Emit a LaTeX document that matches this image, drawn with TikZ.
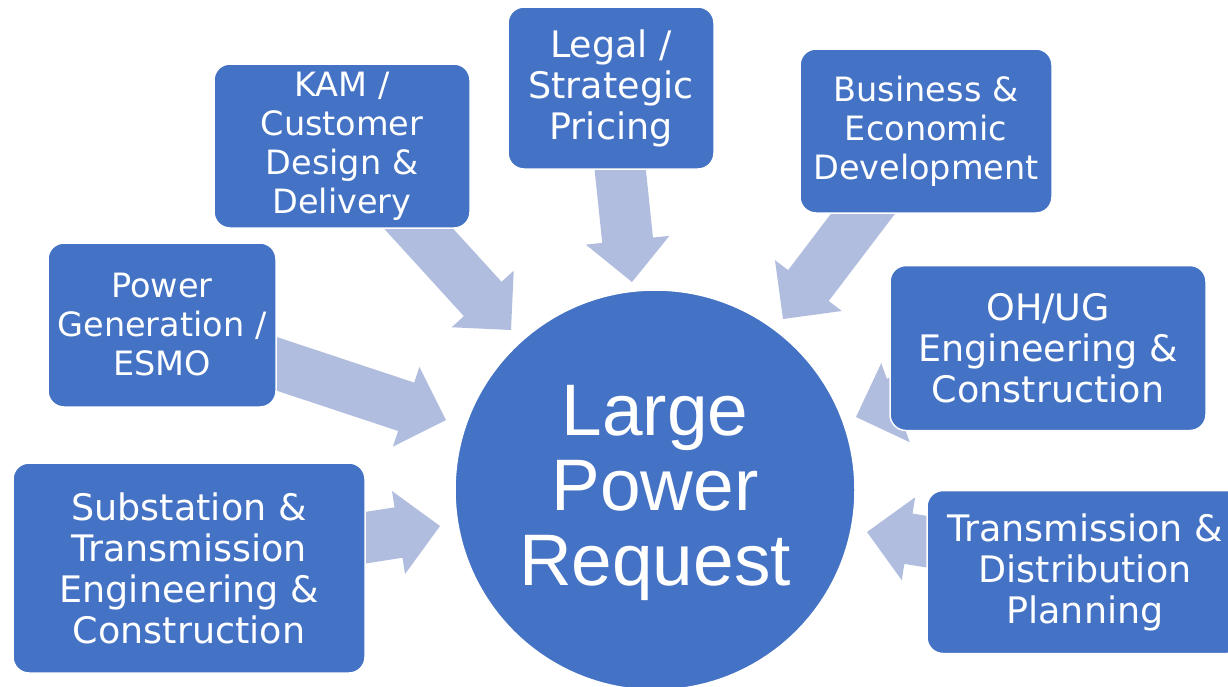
\documentclass[tikz,border=0pt]{standalone}
\usepackage{fontspec}
\setmainfont{DejaVu Sans}
\newfontfamily\circfont{Liberation Sans}
\usetikzlibrary{calc}
\pgfdeclarelayer{background}
\pgfsetlayers{background,main}
\definecolor{boxblue}{HTML}{4472C4}
\definecolor{arrowblue}{HTML}{B0BDDF}
\newcommand{\blockarrow}[2]{%
  \path ($(#2)!42pt!(#1)$) coordinate (hb);
  \fill[arrowfill] ($(#1)!25.5pt!90:(#2)$) -- ($(hb)!25.5pt!90:(#2)$) -- ($(hb)!42pt!90:(#2)$) -- (#2)
    -- ($(hb)!42pt!-90:(#2)$) -- ($(hb)!25.5pt!-90:(#2)$) -- ($(#1)!25.5pt!-90:(#2)$) -- cycle;}
\begin{document}
\begin{tikzpicture}[x=1pt,y=-1pt,
  box/.style={draw=white, line width=1.5pt, fill=boxblue, rounded corners=16pt, text=white,
    align=center, inner sep=0pt, font=\fontsize{36.5}{41}\selectfont},
  smallbox/.style={box, font=\fontsize{33.5}{39}\selectfont},
  hub/.style={circle, draw=white, line width=1.5pt, fill=boxblue, text=white, align=center,
    inner sep=0pt, minimum size=400pt, font=\circfont\fontsize{73}{75}\selectfont},
  arrowfill/.style={fill=arrowblue}]
\useasboundingbox (0,0) rectangle (1228,686);
% boxes
\node[box, minimum width=206pt, minimum height=162pt] (legal) at (611,88) {Legal /\\Strategic\\Pricing};
\node[smallbox, minimum width=256pt, minimum height=164pt] (kam) at (342,146) {KAM /\\Customer\\Design \&\\Delivery};
\node[smallbox, minimum width=252pt, minimum height=164pt] (bus) at (926,131) {Business \&\\Economic\\Development};
\node[smallbox, minimum width=228pt, minimum height=164pt] (pow) at (162,325) {Power\\Generation /\\ESMO};
\node[box, minimum width=316pt, minimum height=165pt] (ohug) at (1048,348) {OH/UG\\Engineering \&\\Construction};
\node[box, minimum width=352pt, minimum height=210pt] (sub) at (189,568) {Substation \&\\Transmission\\Engineering \&\\Construction};
\node[box, minimum width=316pt, minimum height=163pt] (tdp) at (1085,572) {Transmission \&\\Distribution\\Planning};
% hub
\node[hub] (lpr) at (655,490) {};
\node[text=white, align=center, inner sep=0pt, font=\circfont\fontsize{73}{75}\selectfont] (lprtext) at (655,493) {Large\\Power\\Request};
% arrow ends
\coordinate (kamS) at (371.5,177);  \coordinate (kamT) at (511,330);
\coordinate (legalS) at (615,120);  \coordinate (legalT) at (632,282);
\coordinate (busS) at (900,165);    \coordinate (busT) at (783,319);
\coordinate (powS) at (220,345);    \coordinate (powT) at (446,420);
\coordinate (subS) at (300,548);    \coordinate (subT) at (440,526);
\coordinate (ohugS) at (997,366);   \coordinate (ohugT) at (856,417);
\coordinate (tdpS) at (1015,556);   \coordinate (tdpT) at (867,532);
\begin{pgfonlayer}{background}
\fill[white] (0,0) rectangle (1228,686);
\blockarrow{kamS}{kamT}
\blockarrow{legalS}{legalT}
\blockarrow{busS}{busT}
\blockarrow{powS}{powT}
\blockarrow{subS}{subT}
\blockarrow{ohugS}{ohugT}
\blockarrow{tdpS}{tdpT}
\end{pgfonlayer}
\end{tikzpicture}
\end{document}
